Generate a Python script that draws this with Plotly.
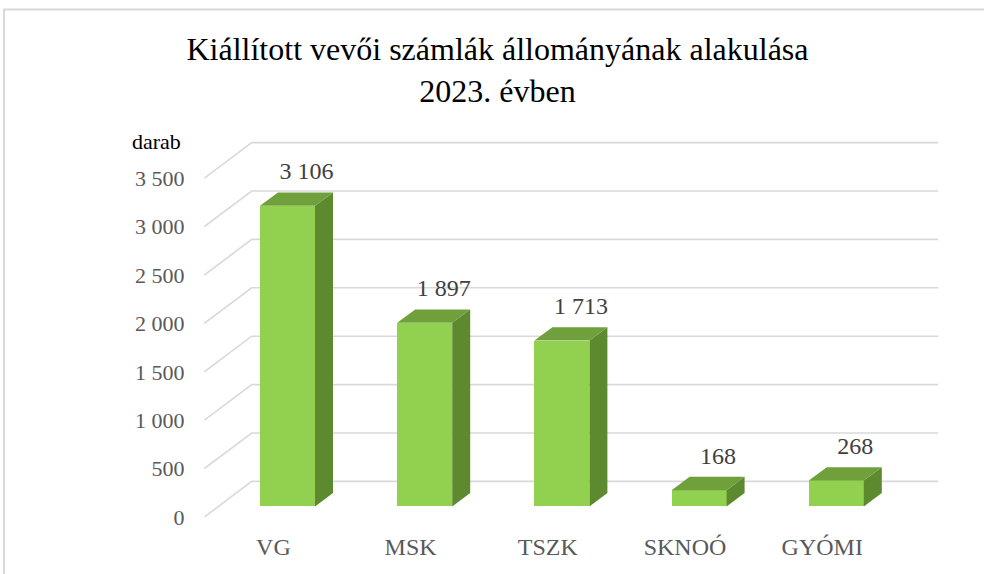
import plotly.graph_objects as go

# ---- data ----
categories = ["VG", "MSK", "TSZK", "SKNOÓ", "GYÓMI"]
values = [3106, 1897, 1713, 168, 268]
y_ticks = [0, 500, 1000, 1500, 2000, 2500, 3000, 3500]
title_text = "Kiállított vevői számlák állományának alakulása<br>2023. évben"
unit_label = "darab"


def fmt(v):
    return f"{v:,}".replace(",", " ")


# ---- layout geometry (pixels) ----
W, H = 984, 574
PL, PR, PT, PB = 204, 940, 120, 517          # plot area in pixels
CAT0, CATSTEP = 273.4, 137.2                   # category centre on front wall
PXPERUNIT = 0.0968                             # pixels per value unit

x_range = [(PL - CAT0) / CATSTEP, (PR - CAT0) / CATSTEP]
y_range = [0, (PB - PT) / PXPERUNIT]

def dx(px):
    return px / CATSTEP

def dy(px):
    return px / PXPERUNIT

# 3D offsets
wall_dx, wall_dy = dx(47.4), dy(35.6)
front_dx, front_dy = dx(14.1), dy(10.6)
depth_dx, depth_dy = dx(18.0), dy(13.3)
bar_w = dx(55.0)
grid_left = dx(204.3 - CAT0)
grid_right = dx(938.3 - CAT0)

GRID = "#D9D9D9"
FRONT = "#92D050"
TOP = "#70A03B"
SIDE = "#5E8A2F"
SERIF = "Liberation Serif"

fig = go.Figure()

# gridlines (side wall diagonal + back wall horizontal), drawn below traces
for t in y_ticks:
    fig.add_shape(type="path", xref="x", yref="y", layer="below",
                  path=f"M {grid_left} {t} L {grid_left + wall_dx} {t + wall_dy} L {grid_right} {t + wall_dy}",
                  line=dict(color=GRID, width=1.6))

# front faces
xc = [i + front_dx for i in range(len(categories))]
fig.add_trace(go.Bar(x=xc, y=values, base=[front_dy] * len(values),
                     width=bar_w, marker=dict(color=FRONT, line=dict(width=0)),
                     showlegend=False, hoverinfo="skip"))

# side & top faces
sx, sy, tx, ty = [], [], [], []
for i, v in enumerate(values):
    xl = xc[i] - bar_w / 2
    xr = xc[i] + bar_w / 2
    b = front_dy
    sx += [xr, xr + depth_dx, xr + depth_dx, xr, xr, None]
    sy += [b, b + depth_dy, b + depth_dy + v, b + v, b, None]
    tx += [xl, xl + depth_dx, xr + depth_dx, xr, xl, None]
    ty += [b + v, b + v + depth_dy, b + v + depth_dy, b + v, b + v, None]
fig.add_trace(go.Scatter(x=sx, y=sy, mode="lines", fill="toself",
                         fillcolor=SIDE, line=dict(width=0, color=SIDE),
                         hoverinfo="skip", showlegend=False))
fig.add_trace(go.Scatter(x=tx, y=ty, mode="lines", fill="toself",
                         fillcolor=TOP, line=dict(width=0, color=TOP),
                         hoverinfo="skip", showlegend=False))

# data labels
lx = [c + dx(19) for c in xc]
ly = [front_dy + v + depth_dy + dy(19) for v in values]
fig.add_trace(go.Scatter(x=lx, y=ly, mode="text", text=[fmt(v) for v in values],
                         textposition="middle center",
                         textfont=dict(family=SERIF, size=24, color="#404040"),
                         hoverinfo="skip", showlegend=False, cliponaxis=False))

def px2paper_x(px):
    return (px - PL) / (PR - PL)

def px2paper_y(py):
    return (PB - py) / (PB - PT)

fig.add_annotation(text=unit_label, xref="paper", yref="paper",
                   x=px2paper_x(130), y=px2paper_y(141),
                   xanchor="left", yanchor="middle", showarrow=False,
                   font=dict(family=SERIF, size=22, color="#000000"))

# border (top and left visible)
fig.add_shape(type="path", xref="paper", yref="paper",
              path=f"M {px2paper_x(4)} {px2paper_y(600)} L {px2paper_x(4)} {px2paper_y(9.5)} L {px2paper_x(1000)} {px2paper_y(9.5)}",
              line=dict(color=GRID, width=2))

fig.update_layout(
    width=W, height=H,
    margin=dict(l=PL, r=W - PR, t=PT, b=H - PB, autoexpand=False),
    paper_bgcolor="white", plot_bgcolor="white",
    bargap=0,
    title=dict(text=title_text, xref="container", yref="container",
               x=497.5 / W, xanchor="center", y=1 - 60 / H, yanchor="top",
               font=dict(family=SERIF, size=32, color="#000000")),
    xaxis=dict(range=x_range, tickvals=list(range(len(categories))),
               ticktext=categories, showgrid=False, zeroline=False,
               showline=False, ticks="outside", ticklen=8,
               tickcolor="rgba(0,0,0,0)",
               tickfont=dict(family=SERIF, size=24, color="#595959"),
               fixedrange=True),
    yaxis=dict(range=y_range, tickvals=y_ticks,
               ticktext=[fmt(t) for t in y_ticks], showgrid=False,
               zeroline=False, showline=False, ticks="outside", ticklen=14,
               tickcolor="rgba(0,0,0,0)",
               tickfont=dict(family=SERIF, size=22, color="#595959"),
               fixedrange=True),
)

fig.write_html("out.html", config={"displayModeBar": False},
               post_script="document.body.style.margin='0px';")
